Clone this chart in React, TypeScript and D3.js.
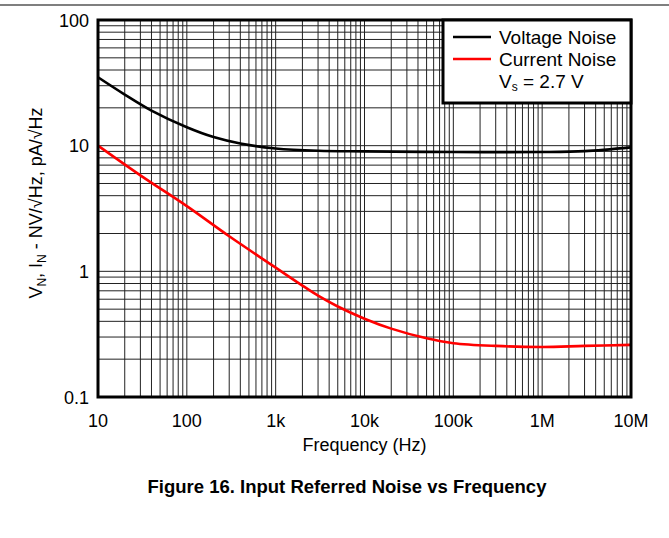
import React from "react";
import * as d3 from "d3";

const freqV = [10, 20, 40, 100, 200, 400, 1000, 3000, 10000, 100000, 1000000, 3000000, 10000000];
const voltageNoise = [35, 25.5, 19, 14, 11.7, 10.4, 9.5, 9.1, 9.0, 8.9, 8.9, 9.05, 9.7];
const freqI = [10, 30, 100, 300, 1000, 2000, 3000, 5000, 10000, 20000, 50000, 100000, 300000, 1000000, 3000000, 10000000];
const currentNoise = [10, 5.8, 3.3, 1.9, 1.07, 0.77, 0.64, 0.525, 0.42, 0.35, 0.293, 0.268, 0.255, 0.25, 0.255, 0.26];
const xTicks = [10, 100, 1000, 10000, 100000, 1000000, 10000000];
const xTickLabels = ["10", "100", "1k", "10k", "100k", "1M", "10M"];
const yTicks = [0.1, 1, 10, 100];
const yTickLabels = ["0.1", "1", "10", "100"];

const FONT = "Liberation Sans, Arial, sans-serif";

export default function App() {
  const W = 669, H = 538;
  const L = 98, R = 631, T = 20, B = 397;
  const x = d3.scaleLog().domain([10, 1e7]).range([L, R]);
  const y = d3.scaleLog().domain([0.1, 100]).range([B, T]);

  const xGrid: number[] = [];
  for (let d = 10; d < 1e7; d *= 10) for (let m = 1; m <= 9; m++) xGrid.push(d * m);
  const yGrid: number[] = [];
  for (let d = 0.1; d < 99; d *= 10) for (let m = 1; m <= 9; m++) yGrid.push(d * m);

  const line = d3
    .line<[number, number]>()
    .x((d) => x(d[0]))
    .y((d) => y(d[1]))
    .curve(d3.curveCatmullRom.alpha(0.5));

  const vPath = line(freqV.map((f, i) => [f, voltageNoise[i]] as [number, number])) || "";
  const iPath = line(freqI.map((f, i) => [f, currentNoise[i]] as [number, number])) || "";

  return (
    <svg width={W} height={H} style={{ position: "absolute", left: 0, top: 0, background: "#fff" }} fontFamily={FONT}>
      <line x1={0} x2={W} y1={5} y2={5} stroke="#000" strokeWidth={1.2} />
      <defs>
        <clipPath id="plot">
          <rect x={L} y={T} width={R - L} height={B - T} />
        </clipPath>
      </defs>
      <g clipPath="url(#plot)">
        {xGrid.map((v, i) => (
          <line key={"x" + i} x1={x(v)} x2={x(v)} y1={T} y2={B} stroke="#222" strokeWidth={1} />
        ))}
        {yGrid.map((v, i) => (
          <line key={"y" + i} x1={L} x2={R} y1={y(v)} y2={y(v)} stroke="#222" strokeWidth={1} />
        ))}
        <path d={vPath} fill="none" stroke="#000" strokeWidth={2.6} />
        <path d={iPath} fill="none" stroke="#ff0000" strokeWidth={2.6} />
      </g>
      <rect x={L} y={T} width={R - L} height={B - T} fill="none" stroke="#000" strokeWidth={3} />
      {xTicks.map((v, i) => (
        <text key={"xt" + i} x={x(v)} y={427} textAnchor="middle" fontSize={18} fill="#000">
          {xTickLabels[i]}
        </text>
      ))}
      {yTicks.map((v, i) => (
        <text key={"yt" + i} x={89} y={y(v) + 6.5} textAnchor="end" fontSize={18} fill="#000">
          {yTickLabels[i]}
        </text>
      ))}
      <text x={(L + R) / 2} y={451} textAnchor="middle" fontSize={18} fill="#000">
        Frequency (Hz)
      </text>
      <text transform={`translate(42,203) rotate(-90)`} textAnchor="middle" fontSize={18} fill="#000">
        V<tspan fontSize={12} dy={4}>N</tspan>
        <tspan dy={-4}>, I</tspan>
        <tspan fontSize={12} dy={4}>N</tspan>
        <tspan dy={-4}> - NV/√Hz, pA/√Hz</tspan>
      </text>
      <rect x={443} y={T} width={R - 443} height={83} fill="#fff" stroke="#000" strokeWidth={3} />
      <line x1={453} x2={491} y1={37} y2={37} stroke="#000" strokeWidth={2.6} />
      <line x1={453} x2={491} y1={59} y2={59} stroke="#ff0000" strokeWidth={2.6} />
      <text x={499} y={44} fontSize={19} fill="#000">Voltage Noise</text>
      <text x={499} y={66} fontSize={19} fill="#000">Current Noise</text>
      <text x={499} y={88} fontSize={19} fill="#000">
        V<tspan fontSize={12} dy={3}>s</tspan>
        <tspan dy={-3}> = 2.7 V</tspan>
      </text>
      <text x={347} y={493} textAnchor="middle" fontSize={18.5} fontWeight="bold" fill="#000">
        Figure 16. Input Referred Noise vs Frequency
      </text>
    </svg>
  );
}
